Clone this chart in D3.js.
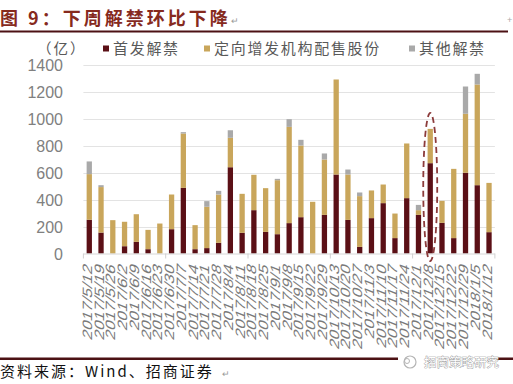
<!DOCTYPE html>
<html>
<head>
<meta charset="utf-8">
<script src="https://cdn.jsdelivr.net/npm/d3@7/dist/d3.min.js"></script>
<style>
  html, body { margin: 0; padding: 0; background: #fff; }
  svg { display: block; }
</style>
</head>
<body>
<svg id="chart" width="513" height="384"></svg>
<script>
// ---------------- DATA ----------------
const title = "图 9：下周解禁环比下降";
const unitLabel = "（亿）";
const source = "资料来源：Wind、招商证券";
const watermark = "招商策略研究";
const seriesNames = ["首发解禁", "定向增发机构配售股份", "其他解禁"];
const dates = [
  "2017/5/12","2017/5/19","2017/5/26","2017/6/2","2017/6/9","2017/6/16","2017/6/23",
  "2017/6/30","2017/7/7","2017/7/14","2017/7/21","2017/7/28","2017/8/4","2017/8/11",
  "2017/8/18","2017/8/25","2017/9/1","2017/9/8","2017/9/15","2017/9/22","2017/9/29",
  "2017/10/13","2017/10/20","2017/10/27","2017/11/3","2017/11/10","2017/11/17","2017/11/24",
  "2017/12/1","2017/12/8","2017/12/15","2017/12/22","2017/12/29","2018/1/5","2018/1/12"
];
const ipoUnlock = [
  250,155,0,54,86,32,0,180,486,32,40,79,639,153,321,160,143,225,269,0,286,
  585,249,49,262,373,114,410,286,669,227,114,598,506,158
];
const placementUnlock = [
  338,337,247,181,205,143,222,257,403,178,306,358,218,289,262,324,400,713,531,383,410,
  704,336,376,205,138,182,405,35,254,163,513,437,746,365
];
const otherUnlock = [
  94,14,0,0,0,0,0,0,10,0,42,27,56,0,0,0,10,57,42,0,45,
  0,37,27,0,0,0,0,39,0,0,0,202,79,0
];
const yTicks = [0, 200, 400, 600, 800, 1000, 1200, 1400];
const highlightDate = "2017/12/8";
const tickEvery = 7;

// ---------------- LAYOUT / STYLE ----------------
const colors = ["#5b1016", "#c9a65b", "#a9a9a9"];
const plot = { left: 83.4, right: 494.9, top: 64.5, bottom: 253.5 };
const latin = "'Liberation Sans', Arial, sans-serif";
const cjk = "'Noto Sans CJK SC', 'Noto Sans', sans-serif";

const svg = d3.select("#chart");

const rows = dates.map((d, i) => ({
  date: d, ipo: ipoUnlock[i], placement: placementUnlock[i], other: otherUnlock[i]
}));
const keys = ["ipo", "placement", "other"];
const stacked = d3.stack().keys(keys)(rows);

const x = d3.scaleBand().domain(dates)
  .range([plot.left, plot.right]).paddingInner(0.55).paddingOuter(0.275);
const y = d3.scaleLinear().domain([0, 1400]).range([plot.bottom, plot.top]);

// Title
svg.append("text").attr("x", 0).attr("y", 25)
  .attr("font-family", cjk).attr("font-weight", 700).attr("font-size", 18)
  .attr("letter-spacing", 3).attr("fill", "#862a1e").text(title);
svg.append("text").attr("x", 231).attr("y", 24)
  .attr("font-family", latin).attr("font-size", 9).attr("fill", "#999").text("↵");
svg.append("text").attr("x", 507).attr("y", 23)
  .attr("font-family", latin).attr("font-size", 9).attr("fill", "#aaa").text("+");
svg.append("rect").attr("x", 0).attr("y", 30.5).attr("width", 508).attr("height", 2)
  .attr("fill", "#4c1114");

// Unit + legend
const legendBase = 53.5;
svg.append("text").attr("x", 37).attr("y", legendBase)
  .attr("font-family", cjk).attr("font-size", 14.5).attr("letter-spacing", 2)
  .attr("fill", "#595959").text(unitLabel);
const legendX = [103, 204, 409];
seriesNames.forEach((name, i) => {
  svg.append("rect").attr("x", legendX[i]).attr("y", legendBase - 8).attr("width", 6).attr("height", 6)
    .attr("fill", colors[i]);
  svg.append("text").attr("x", legendX[i] + 10).attr("y", legendBase)
    .attr("font-family", cjk).attr("font-size", 15).attr("letter-spacing", 1.7)
    .attr("fill", "#595959").text(name);
});

// Grid lines
svg.append("g").selectAll("line").data(yTicks.filter(t => t > 0)).join("line")
  .attr("x1", plot.left).attr("x2", plot.right)
  .attr("y1", d => Math.round(y(d)) + 0.5).attr("y2", d => Math.round(y(d)) + 0.5)
  .attr("stroke", "#e3e3e3").attr("stroke-width", 1);

// Y axis labels
const yAxis = d3.axisLeft(y).tickValues(yTicks).tickFormat(d3.format("d"))
  .tickSize(0).tickPadding(0);
const yg = svg.append("g").attr("transform", `translate(63,0)`).call(yAxis);
yg.select(".domain").remove();
yg.selectAll("text").attr("font-family", latin).attr("font-size", 16)
  .attr("fill", "#808080").attr("dy", "0.35em");

// Bars
svg.append("g").selectAll("g").data(stacked).join("g")
  .attr("fill", (d, i) => colors[i])
  .selectAll("rect").data(d => d).join("rect")
  .attr("x", d => x(d.data.date))
  .attr("width", x.bandwidth())
  .attr("y", d => y(d[1]))
  .attr("height", d => Math.max(0, y(d[0]) - y(d[1])));

// X axis line + ticks
svg.append("line").attr("x1", plot.left).attr("x2", plot.right)
  .attr("y1", plot.bottom + 0.5).attr("y2", plot.bottom + 0.5)
  .attr("stroke", "#d6d6d6");
const step = x.step();
const boundaries = d3.range(0, dates.length + 1, tickEvery)
  .map(i => plot.left + i * step);
svg.append("g").selectAll("line").data(boundaries).join("line")
  .attr("x1", d => d).attr("x2", d => d)
  .attr("y1", plot.bottom).attr("y2", plot.bottom + 5)
  .attr("stroke", "#d0d0d0");

// X labels (steep, slanted text)
svg.append("g").selectAll("g").data(dates).join("g")
  .attr("transform", d => `translate(${x(d) + x.bandwidth() / 2 + 2.5},266)`)
  .append("text")
  .attr("transform", "matrix(0,-1.12,0.9,0.35,0,0)")
  .attr("text-anchor", "end")
  .attr("font-family", latin).attr("font-size", 15)
  .attr("fill", "#7a7a7a").text(d => d);

// Highlight ellipse for next week
const hx = x(highlightDate) + x.bandwidth() / 2;
svg.append("ellipse").attr("cx", hx).attr("cy", 187).attr("rx", 7).attr("ry", 74)
  .attr("fill", "none").attr("stroke", "#8c3b3b").attr("stroke-width", 1.8)
  .attr("stroke-dasharray", "6,4");

// Bottom rule + source
svg.append("rect").attr("x", 0).attr("y", 357.5).attr("width", 513).attr("height", 2.5)
  .attr("fill", "#4c1114");
svg.append("text").attr("x", 0).attr("y", 377)
  .attr("font-family", cjk).attr("font-size", 15).attr("letter-spacing", 2)
  .attr("fill", "#111").text(source);
svg.append("text").attr("x", 222).attr("y", 377)
  .attr("font-family", latin).attr("font-size", 9).attr("fill", "#999").text("↵");

// Watermark
svg.append("rect").attr("x", 398).attr("y", 352).attr("width", 99).attr("height", 18).attr("fill", "#fff");
svg.append("circle").attr("cx", 410).attr("cy", 362).attr("r", 6)
  .attr("fill", "none").attr("stroke", "#b5b5b5").attr("stroke-width", 1.2);
svg.append("circle").attr("cx", 407).attr("cy", 361).attr("r", 2.5)
  .attr("fill", "none").attr("stroke", "#b5b5b5").attr("stroke-width", 1);
svg.append("text").attr("x", 424).attr("y", 367)
  .attr("font-family", cjk).attr("font-size", 12.5)
  .attr("fill", "#fff").attr("stroke", "#8a8a8a").attr("stroke-width", 0.7)
  .attr("paint-order", "stroke").text(watermark);
</script>
</body>
</html>
